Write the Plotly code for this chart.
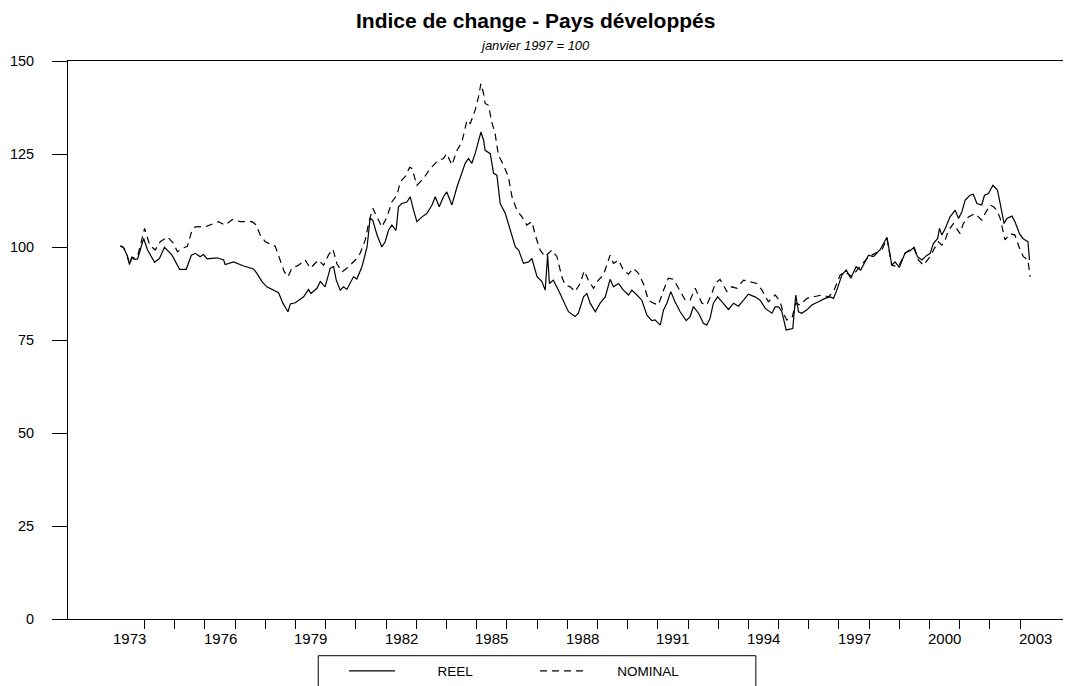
import plotly.graph_objects as go

# ---------------- data ----------------
reel_years = [1973.20, 1973.30, 1973.42, 1973.50, 1973.58, 1973.66, 1973.77, 1973.86, 1973.97, 1974.10,
              1974.33, 1974.49, 1974.66, 1974.91, 1975.16, 1975.38, 1975.55, 1975.68, 1975.84, 1975.95,
              1976.07, 1976.40, 1976.62, 1976.67, 1976.95, 1977.28, 1977.61, 1977.72, 1977.89, 1978.05,
              1978.27, 1978.44, 1978.58, 1978.66, 1978.75, 1978.83, 1978.99, 1979.27, 1979.43, 1979.51,
              1979.71, 1979.82, 1979.98, 1980.15, 1980.26, 1980.35, 1980.48, 1980.59, 1980.70, 1980.92,
              1981.03, 1981.20, 1981.37, 1981.47, 1981.56, 1981.70, 1981.86, 1981.97, 1982.08, 1982.19,
              1982.33, 1982.41, 1982.52, 1982.69, 1982.80, 1982.91, 1983.02, 1983.19, 1983.35, 1983.52,
              1983.63, 1983.76, 1983.90, 1984.01, 1984.18, 1984.35, 1984.51, 1984.62, 1984.73, 1984.84,
              1984.95, 1985.06, 1985.14, 1985.23, 1985.28, 1985.45, 1985.56, 1985.67, 1985.78, 1985.95,
              1986.11, 1986.28, 1986.39, 1986.55, 1986.72, 1986.83, 1987.00, 1987.16, 1987.27, 1987.35,
              1987.41, 1987.54, 1987.71, 1987.88, 1988.04, 1988.26, 1988.37, 1988.54, 1988.65, 1988.76,
              1988.93, 1989.09, 1989.26, 1989.42, 1989.53, 1989.70, 1989.86, 1990.03, 1990.14, 1990.31,
              1990.47, 1990.64, 1990.80, 1990.91, 1991.08, 1991.19, 1991.30, 1991.43, 1991.57, 1991.74,
              1991.94, 1992.07, 1992.18, 1992.35, 1992.51, 1992.62, 1992.73, 1992.84, 1992.98, 1993.12,
              1993.34, 1993.51, 1993.67, 1993.84, 1994.00, 1994.22, 1994.39, 1994.56, 1994.78, 1994.89,
              1995.00, 1995.11, 1995.25, 1995.47, 1995.57, 1995.66, 1995.77, 1995.94, 1996.10, 1996.32,
              1996.54, 1996.71, 1996.82, 1996.93, 1997.10, 1997.24, 1997.39, 1997.57, 1997.72, 1997.98,
              1998.14, 1998.36, 1998.59, 1998.75, 1998.86, 1999.00, 1999.19, 1999.36, 1999.49, 1999.60,
              1999.75, 1999.89, 2000.02, 2000.13, 2000.27, 2000.33, 2000.41, 2000.52, 2000.68, 2000.85,
              2000.96, 2001.07, 2001.18, 2001.34, 2001.45, 2001.57, 2001.73, 2001.82, 2001.95, 2002.10,
              2002.25, 2002.34, 2002.47, 2002.56, 2002.73, 2002.83, 2002.98, 2003.09, 2003.26, 2003.31]
reel_values = [100.3, 99.9, 97.8, 95.3, 97.1, 96.7, 96.8, 99.2, 102.3, 99.2,
               95.9, 96.9, 99.9, 97.8, 94.0, 94.0, 97.8, 98.3, 97.4, 98.0,
               96.8, 97.1, 96.5, 95.3, 96.0, 94.9, 94.1, 92.9, 90.7, 89.3,
               88.4, 87.7, 84.9, 83.9, 82.6, 84.7, 85.0, 86.6, 88.6, 87.5,
               88.9, 90.7, 89.3, 94.3, 94.7, 91.1, 88.4, 89.3, 88.6, 92.0,
               91.4, 94.7, 100.0, 107.7, 107.2, 103.2, 100.0, 101.4, 104.5, 105.9,
               104.5, 110.8, 111.7, 112.1, 113.5, 109.9, 106.8, 108.1, 109.0, 111.3,
               113.5, 110.8, 113.5, 114.8, 111.3, 116.2, 119.8, 122.5, 123.8, 122.5,
               125.1, 128.2, 130.9, 128.7, 126.0, 125.1, 119.8, 119.3, 111.7, 109.0,
               104.5, 100.0, 99.2, 95.6, 96.0, 96.9, 92.0, 90.7, 88.4, 97.8,
               90.2, 91.1, 88.4, 85.3, 82.6, 81.3, 82.2, 86.6, 87.5, 84.9,
               82.6, 84.9, 86.6, 91.3, 89.3, 90.2, 88.4, 87.1, 88.4, 87.1,
               85.7, 81.7, 80.2, 80.4, 79.0, 83.1, 84.9, 88.0, 85.3, 82.6,
               80.2, 81.3, 84.0, 82.2, 79.5, 79.0, 80.8, 84.9, 86.6, 85.3,
               83.2, 84.9, 84.1, 85.7, 87.3, 86.6, 85.7, 83.5, 82.2, 83.9,
               83.9, 82.6, 77.7, 78.1, 87.1, 82.6, 82.2, 83.1, 84.4, 85.3,
               86.2, 86.6, 86.2, 88.4, 92.5, 93.8, 91.6, 94.7, 93.8, 97.8,
               97.4, 99.2, 102.6, 95.1, 96.0, 94.5, 98.4, 99.0, 99.9, 97.4,
               96.5, 97.6, 98.3, 101.0, 102.3, 105.0, 103.2, 105.0, 108.1, 109.9,
               107.7, 109.4, 112.6, 113.9, 114.2, 111.7, 111.3, 113.9, 114.4, 116.6,
               115.3, 111.7, 106.3, 107.7, 108.3, 106.8, 103.6, 102.3, 101.4, 96.5]

nominal_years = [1973.20, 1973.30, 1973.42, 1973.50, 1973.58, 1973.66, 1973.77, 1973.86, 1974.00, 1974.17,
                 1974.35, 1974.52, 1974.76, 1974.96, 1975.09, 1975.24, 1975.42, 1975.57, 1975.68, 1976.07,
                 1976.45, 1976.67, 1976.91, 1977.17, 1977.56, 1977.70, 1977.83, 1978.00, 1978.33, 1978.49,
                 1978.63, 1978.75, 1978.88, 1979.10, 1979.32, 1979.49, 1979.76, 1979.93, 1980.09, 1980.24,
                 1980.37, 1980.54, 1980.76, 1980.98, 1981.14, 1981.31, 1981.42, 1981.56, 1981.70, 1981.86,
                 1982.03, 1982.19, 1982.36, 1982.47, 1982.63, 1982.78, 1982.86, 1983.02, 1983.24, 1983.46,
                 1983.68, 1983.90, 1984.01, 1984.18, 1984.35, 1984.51, 1984.68, 1984.79, 1984.95, 1985.06,
                 1985.14, 1985.23, 1985.28, 1985.39, 1985.50, 1985.61, 1985.72, 1985.89, 1986.05, 1986.17,
                 1986.33, 1986.50, 1986.66, 1986.83, 1986.94, 1987.10, 1987.27, 1987.38, 1987.49, 1987.66,
                 1987.82, 1987.93, 1988.10, 1988.26, 1988.43, 1988.56, 1988.70, 1988.87, 1989.03, 1989.20,
                 1989.42, 1989.53, 1989.70, 1989.86, 1990.03, 1990.19, 1990.36, 1990.52, 1990.69, 1990.86,
                 1991.02, 1991.19, 1991.35, 1991.52, 1991.68, 1991.91, 1992.07, 1992.24, 1992.46, 1992.62,
                 1992.79, 1992.90, 1993.06, 1993.29, 1993.45, 1993.62, 1993.84, 1994.06, 1994.28, 1994.45,
                 1994.66, 1994.89, 1995.05, 1995.16, 1995.27, 1995.44, 1995.57, 1995.71, 1995.94, 1996.15,
                 1996.43, 1996.65, 1996.82, 1997.04, 1997.20, 1997.43, 1997.65, 1997.98, 1998.20, 1998.42,
                 1998.59, 1998.75, 1998.97, 1999.19, 1999.47, 1999.63, 1999.80, 2000.02, 2000.13, 2000.29,
                 2000.41, 2000.52, 2000.63, 2000.79, 2001.01, 2001.12, 2001.29, 2001.51, 2001.73, 2001.84,
                 2002.01, 2002.12, 2002.23, 2002.34, 2002.50, 2002.67, 2002.83, 2003.00, 2003.11, 2003.26,
                 2003.33]
nominal_values = [100.3, 99.9, 97.8, 95.5, 97.3, 97.0, 97.5, 100.5, 105.0, 100.5,
                  99.2, 101.4, 102.7, 101.0, 98.7, 99.6, 100.2, 104.5, 105.4, 105.6,
                  106.8, 105.9, 107.4, 106.8, 106.8, 105.9, 103.2, 101.4, 100.2, 96.5,
                  93.3, 92.0, 94.3, 95.1, 96.5, 94.3, 96.5, 95.1, 97.8, 99.4,
                  95.5, 93.3, 94.7, 96.5, 98.3, 101.9, 106.3, 110.4, 108.1, 105.4,
                  108.1, 112.1, 113.9, 117.5, 118.9, 121.4, 121.1, 116.6, 118.4, 121.1,
                  122.9, 123.8, 125.1, 122.0, 126.0, 128.2, 134.1, 133.2, 136.8, 140.3,
                  143.9, 141.2, 138.6, 138.1, 133.6, 130.5, 124.7, 122.0, 118.9, 113.5,
                  109.9, 108.1, 105.9, 106.8, 103.2, 99.2, 97.4, 98.3, 99.2, 97.4,
                  92.0, 89.8, 89.3, 88.0, 90.2, 93.6, 91.1, 88.9, 91.1, 92.5,
                  97.8, 95.6, 96.5, 93.8, 92.7, 94.3, 92.9, 90.2, 85.7, 84.9,
                  84.4, 88.4, 91.6, 91.3, 88.9, 85.7, 85.7, 88.9, 84.9, 84.4,
                  87.5, 90.2, 91.3, 88.0, 89.3, 88.9, 91.1, 90.7, 90.2, 88.4,
                  85.3, 87.1, 85.3, 82.2, 80.4, 80.8, 84.9, 84.4, 86.2, 86.6,
                  87.1, 86.6, 88.0, 92.5, 93.3, 92.0, 94.3, 97.4, 98.3, 99.2,
                  102.3, 95.1, 94.7, 98.3, 100.0, 96.5, 95.1, 97.4, 99.2, 101.4,
                  100.5, 101.9, 104.5, 106.3, 103.6, 106.3, 108.1, 109.0, 107.2, 109.0,
                  111.3, 110.8, 109.9, 107.7, 101.9, 103.6, 103.2, 99.2, 97.4, 96.5,
                  92.0]

year_ticks = list(range(1974, 2004))          # tick marks at year boundaries
label_years = list(range(1973, 2004, 3))      # labelled years
y_ticks = [0, 25, 50, 75, 100, 125, 150]

FONT = "Arial, Liberation Sans, Helvetica, sans-serif"

fig = go.Figure()
fig.add_trace(go.Scatter(x=reel_years, y=reel_values, mode="lines",
                         name="\u00a0" * 10 + "REEL",
                         line=dict(color="black", width=1.2)))
fig.add_trace(go.Scatter(x=nominal_years, y=nominal_values, mode="lines",
                         name="\u00a0" * 7 + "NOMINAL",
                         line=dict(color="black", width=1.2, dash="7px,5px")))

annotations = [
    dict(text="<b>Indice de change - Pays développés</b>", xref="paper", yref="paper",
         x=0.4661, y=1.0, yshift=41, xanchor="center", yanchor="middle", showarrow=False,
         font=dict(family=FONT, size=21, color="black")),
    dict(text="<i>janvier 1997 = 100</i>", xref="paper", yref="paper",
         x=0.4661, y=1.0, yshift=16, xanchor="center", yanchor="middle", showarrow=False,
         font=dict(family=FONT, size=13, color="black")),
]
for yr in label_years:
    annotations.append(dict(text=str(yr), x=yr + 0.5, y=0, xref="x", yref="y",
                            xanchor="center", yanchor="top", yshift=-9, showarrow=False,
                            font=dict(family=FONT, size=15, color="black")))

fig.update_layout(
    width=1071, height=686,
    margin=dict(l=60, r=8, t=53, b=75, autoexpand=False),
    paper_bgcolor="white", plot_bgcolor="white",
    font=dict(family=FONT, color="black"),
    showlegend=True,
    legend=dict(orientation="h", x=0.2752, xanchor="left", y=-0.0932, yanchor="middle",
                bgcolor="rgba(0,0,0,0)", borderwidth=0,
                font=dict(family=FONT, size=13.5, color="black"),
                itemwidth=46, entrywidth=130, entrywidthmode="pixels"),
    annotations=annotations,
    shapes=[dict(type="rect", xref="paper", yref="paper",
                 x0=0.2495, x1=0.6858, y0=-0.0658, y1=-0.2,
                 line=dict(color="black", width=1), fillcolor="rgba(0,0,0,0)", layer="above")],
    xaxis=dict(range=[1971.464, 2004.686], tickvals=year_ticks, automargin=False,
               ticktext=[""] * len(year_ticks), ticks="outside", ticklen=9,
               tickcolor="black", tickwidth=1, showline=True, linecolor="black",
               linewidth=1, mirror=True, showgrid=False, zeroline=False),
    yaxis=dict(range=[0, 150], tickvals=y_ticks, ticks="outside", ticklen=15, automargin=False,
               tickcolor="black", tickwidth=1, showline=True, linecolor="black",
               linewidth=1, showgrid=False, zeroline=False, ticklabelstandoff=15,
               tickfont=dict(family=FONT, size=14.5, color="black")),
)

fig.write_html("out.html")
